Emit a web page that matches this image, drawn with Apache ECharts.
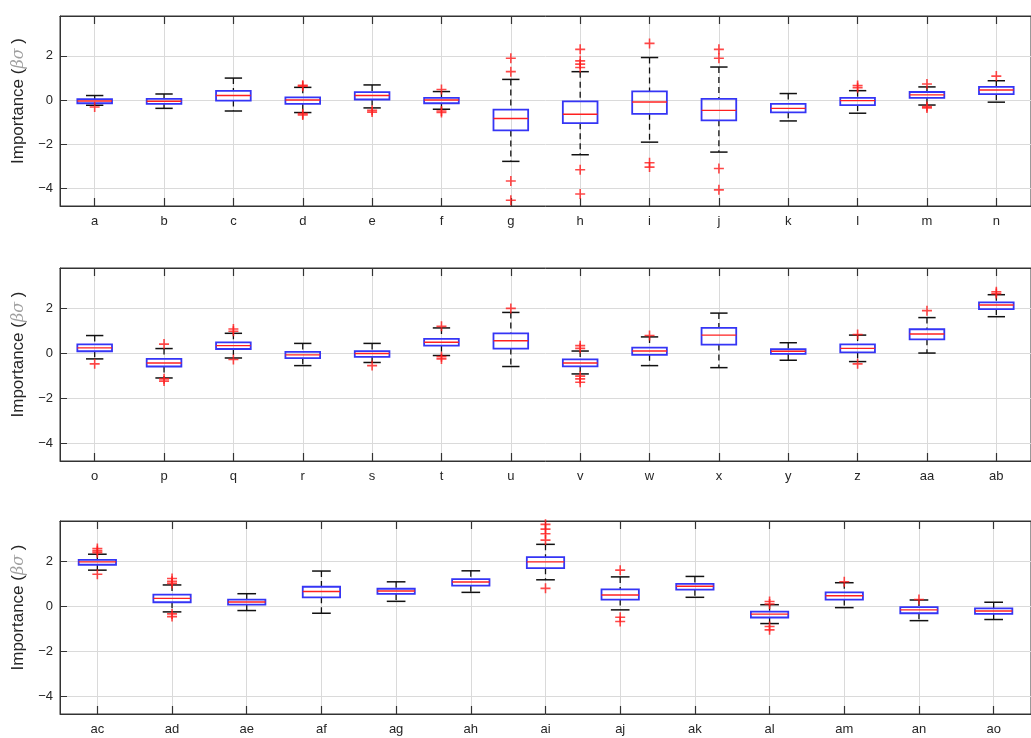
<!DOCTYPE html>
<html>
<head>
<meta charset="utf-8">
<script src="https://cdn.jsdelivr.net/npm/echarts@6/dist/echarts.min.js"></script>
<style>
html,body{margin:0;padding:0;background:#fff;}
#chart{width:1031px;height:738px;}
</style>
</head>
<body>
<div id="chart"></div>
<script>
// ---- Data ----
// each stat: [lower whisker, Q1, median, Q3, upper whisker]
const labels1 = ['a','b','c','d','e','f','g','h','i','j','k','l','m','n'];
const stats1 = [
  [-0.24,-0.15,-0.05,0.04,0.20],
  [-0.38,-0.18,-0.06,0.05,0.27],
  [-0.50,-0.03,0.20,0.41,0.99],
  [-0.57,-0.18,0.00,0.12,0.57],
  [-0.36,0.02,0.20,0.35,0.68],
  [-0.42,-0.15,0.00,0.09,0.38],
  [-2.78,-1.38,-0.84,-0.44,0.93],
  [-2.48,-1.05,-0.65,-0.06,1.28],
  [-1.91,-0.63,-0.09,0.39,1.92],
  [-2.36,-0.92,-0.47,0.05,1.49],
  [-0.95,-0.56,-0.38,-0.18,0.29],
  [-0.60,-0.23,-0.03,0.09,0.42],
  [-0.23,0.09,0.23,0.36,0.59],
  [-0.10,0.26,0.45,0.59,0.87]
];
const outliers1 = [
  [-0.32], [], [], [0.62,0.66,-0.62,-0.68], [-0.47,-0.55], [0.47,-0.50,-0.57],
  [1.89,1.28,-3.67,-4.54], [2.29,1.77,1.62,1.47,-3.16,-4.26], [2.56,-2.84,-3.04],
  [2.29,1.89,-3.10,-4.07], [], [0.65,0.55], [0.72,-0.30,-0.36], [1.08]
];

const labels2 = ['o','p','q','r','s','t','u','v','w','x','y','z','aa','ab'];
const stats2 = [
  [-0.25,0.09,0.24,0.40,0.79],
  [-1.10,-0.59,-0.43,-0.25,0.21],
  [-0.21,0.19,0.34,0.49,0.89],
  [-0.55,-0.22,-0.07,0.06,0.44],
  [-0.41,-0.16,-0.01,0.10,0.44],
  [-0.10,0.34,0.49,0.64,1.13],
  [-0.59,0.21,0.56,0.89,1.82],
  [-0.92,-0.58,-0.43,-0.27,0.10],
  [-0.55,-0.07,0.10,0.25,0.73],
  [-0.64,0.39,0.81,1.13,1.79],
  [-0.31,-0.03,0.09,0.18,0.47],
  [-0.37,0.04,0.22,0.40,0.81],
  [0.01,0.62,0.86,1.07,1.59],
  [1.63,1.97,2.15,2.27,2.61]
];
const outliers2 = [
  [-0.47], [0.41,-1.14,-1.24], [1.08,0.98,-0.28], [], [-0.55], [1.20,-0.15,-0.25],
  [2.00], [0.34,0.22,-1.02,-1.14,-1.29], [0.79], [], [], [0.84,-0.47], [1.90], [2.74,2.66]
];

const labels3 = ['ac','ad','ae','af','ag','ah','ai','aj','ak','al','am','an','ao'];
const stats3 = [
  [1.61,1.85,1.98,2.07,2.32],
  [-0.25,0.18,0.35,0.52,0.95],
  [-0.19,0.07,0.19,0.30,0.56],
  [-0.31,0.40,0.66,0.87,1.57],
  [0.22,0.55,0.68,0.78,1.09],
  [0.62,0.92,1.08,1.21,1.58],
  [1.18,1.70,1.98,2.19,2.76],
  [-0.16,0.30,0.50,0.75,1.31],
  [0.40,0.74,0.89,1.00,1.33],
  [-0.77,-0.50,-0.35,-0.24,0.07],
  [-0.06,0.30,0.47,0.62,1.05],
  [-0.64,-0.31,-0.16,-0.04,0.28],
  [-0.59,-0.34,-0.21,-0.09,0.18]
];
const outliers3 = [
  [2.57,2.47,2.39,1.43], [1.24,1.11,1.02,-0.34,-0.46], [], [], [], [],
  [3.65,3.44,3.23,2.95,0.80], [1.61,-0.49,-0.68], [], [0.21,0.10,-0.90,-1.05],
  [1.09], [0.30], []
];

const yMin = -4.8, yMax = 3.8;
const yTitle = 'Importance ({g|βσ} )';

// ---- Styling / layout ----
const TXT = '#262626';
const GRIDC = '#dadada';
const FONT = '"Liberation Sans", Arial, sans-serif';
const panels = [
  {labels: labels1, stats: stats1, outliers: outliers1, top: 16, height: 190},
  {labels: labels2, stats: stats2, outliers: outliers2, top: 268, height: 193},
  {labels: labels3, stats: stats3, outliers: outliers3, top: 521, height: 193}
];

function renderBox(params, api) {
  const x = api.value(0);
  const lo = api.coord([x, api.value(1)]);
  const q1 = api.coord([x, api.value(2)]);
  const md = api.coord([x, api.value(3)]);
  const q3 = api.coord([x, api.value(4)]);
  const hi = api.coord([x, api.value(5)]);
  const band = api.size([1, 0])[0];
  const bw = band * 0.25, cw = band * 0.125;
  const cx = lo[0];
  const dash = {stroke: '#111', lineWidth: 1.3, lineDash: [6, 4]};
  const solid = {stroke: '#111', lineWidth: 1.5};
  return {
    type: 'group',
    children: [
      {type: 'line', shape: {x1: cx, y1: hi[1], x2: cx, y2: q3[1]}, style: dash},
      {type: 'line', shape: {x1: cx, y1: q1[1], x2: cx, y2: lo[1]}, style: dash},
      {type: 'line', shape: {x1: cx - cw, y1: hi[1], x2: cx + cw, y2: hi[1]}, style: solid},
      {type: 'line', shape: {x1: cx - cw, y1: lo[1], x2: cx + cw, y2: lo[1]}, style: solid},
      {type: 'rect', shape: {x: cx - bw, y: q3[1], width: 2 * bw, height: q1[1] - q3[1]},
        style: {fill: 'rgba(255,255,255,0)', stroke: '#3535f5', lineWidth: 1.8}},
      {type: 'line', shape: {x1: cx - bw, y1: md[1], x2: cx + bw, y2: md[1]},
        style: {stroke: '#ff2020', lineWidth: 1.4}}
    ]
  };
}

const grids = [], xAxes = [], yAxes = [], series = [];
panels.forEach((p, k) => {
  grids.push({left: 60, top: p.top, width: 974, height: p.height, show: true,
    borderColor: '#333', borderWidth: 1, backgroundColor: 'transparent'});
  xAxes.push({
    type: 'category', gridIndex: k, data: p.labels, position: 'bottom', boundaryGap: true,
    axisLine: {show: true, onZero: false, lineStyle: {color: '#333', width: 1}},
    axisTick: {show: true, inside: true, alignWithLabel: true, length: 8, lineStyle: {color: '#333', width: 1.2}},
    axisLabel: {show: true, interval: 0, margin: 9, color: TXT, fontSize: 13, fontFamily: FONT},
    splitLine: {show: true, alignWithLabel: true, lineStyle: {color: GRIDC, width: 1}}
  });
  xAxes.push({
    type: 'category', gridIndex: k, data: p.labels, position: 'top', boundaryGap: true,
    axisLine: {show: true, onZero: false, lineStyle: {color: '#333', width: 1}},
    axisTick: {show: true, inside: true, alignWithLabel: true, length: 8, lineStyle: {color: '#333', width: 1.2}},
    axisLabel: {show: false}, splitLine: {show: false}
  });
  yAxes.push({
    type: 'value', gridIndex: k, min: yMin, max: yMax, splitNumber: 4,
    name: yTitle, nameLocation: 'middle', nameGap: 32,
    nameTextStyle: {color: TXT, fontSize: 17, fontFamily: FONT, padding: [0, 0, 0, 20],
      rich: {g: {fontStyle: 'italic', fontFamily: '"DejaVu Serif", serif', color: '#a0a0a0', fontSize: 16}}},
    axisLine: {show: true, onZero: false, lineStyle: {color: '#333', width: 1}},
    axisTick: {show: true, inside: true, length: 7, lineStyle: {color: '#333'}},
    axisLabel: {show: true, margin: 7, color: TXT, fontSize: 13, fontFamily: FONT,
      showMinLabel: false, showMaxLabel: false,
      formatter: v => (v < 0 ? '\u2212' + Math.abs(v) : String(v))},
    splitLine: {show: true, lineStyle: {color: GRIDC, width: 1}}
  });
  series.push({
    type: 'custom', xAxisIndex: 2 * k, yAxisIndex: k,
    data: p.stats.map((s, i) => [i].concat(s)),
    encode: {x: 0, y: [1, 2, 3, 4, 5]},
    renderItem: renderBox, silent: true, z: 3
  });
  const pts = [];
  p.outliers.forEach((arr, i) => arr.forEach(v => pts.push([i, v])));
  series.push({
    type: 'scatter', xAxisIndex: 2 * k, yAxisIndex: k, data: pts,
    symbol: 'path://M4.2,0H5.8V10H4.2Z M0,4.2H10V5.8H0Z', symbolSize: 10,
    itemStyle: {color: '#ff1a1a'}, silent: true, z: 4
  });
});

const chart = echarts.init(document.getElementById('chart'), null, {renderer: 'canvas'});
chart.setOption({
  animation: false,
  backgroundColor: '#ffffff',
  grid: grids, xAxis: xAxes, yAxis: yAxes, series: series
});
</script>
</body>
</html>
